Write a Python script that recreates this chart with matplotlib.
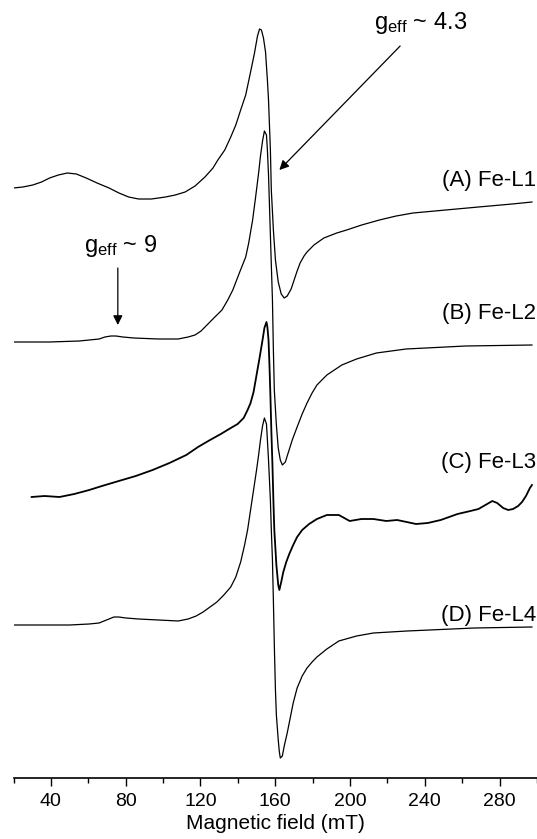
import matplotlib
matplotlib.use("Agg")
import matplotlib.pyplot as plt

plt.rcParams['font.family'] = ['Liberation Sans', 'DejaVu Sans']
plt.rcParams['mathtext.fontset'] = 'custom'
plt.rcParams['mathtext.rm'] = 'Liberation Sans'

# ---- data (magnetic field in mT, intensity in arbitrary units, traces stacked) ----
field_A = [20.0, 25.0, 30.3, 35.0, 39.3, 44.0, 48.8, 53.6, 58.9, 64.7, 71.1, 76.4, 81.6,
           86.9, 93.8, 101.3, 106.5, 111.8, 117.1, 122.4, 126.7, 129.3, 133.0, 136.2,
           138.9, 141.5, 144.2, 146.8, 148.9, 150.5, 151.6, 152.6, 153.7, 154.8, 155.8,
           156.4, 156.9, 157.4, 157.9, 159.0, 160.1, 161.6, 163.2, 164.8, 166.4, 168.5,
           170.1, 171.7, 173.3, 175.4, 177.0, 180.7, 186.0, 192.9, 198.2, 206.2, 215.7,
           224.7, 233.7, 251.2, 268.7, 286.7, 297.3]
signal_A = [590, 591, 593, 596, 600, 603, 605, 604, 600, 595, 590, 585, 581,
            579, 579, 581, 583, 586, 592, 601, 610, 618, 628, 641,
            653, 668, 683, 706, 725, 742, 749, 748, 740, 726, 698,
            678, 653, 628, 588, 548, 518, 496, 484, 480, 482, 489,
            498, 507, 515, 522, 526, 533, 540, 545, 548, 553, 558,
            562, 565, 568, 571, 574, 576]

field_B = [20.0, 39.3, 55.2, 65.8, 68.9, 72.1, 74.8, 78.5, 84.3, 97.5, 108.1, 113.4,
           117.1, 120.3, 124.0, 127.7, 131.5, 134.6, 137.3, 141.0, 144.2, 145.8, 147.9,
           149.5, 151.1, 152.1, 153.2, 154.2, 155.3, 155.8, 156.4, 156.9, 157.4, 157.9,
           158.5, 159.0, 159.5, 160.6, 161.6, 162.7, 163.8, 165.4, 166.9, 169.1, 171.7,
           174.4, 177.0, 179.7, 182.3, 187.6, 195.6, 203.5, 214.1, 230.0, 261.8, 297.3]
signal_B = [436, 436, 437, 439, 441, 442, 442, 441, 440, 439, 439, 441,
            443, 447, 454, 461, 468, 478, 488, 506, 521, 535, 558,
            581, 605, 622, 637, 647, 643, 628, 603, 573, 543, 513,
            478, 428, 388, 353, 330, 318, 313, 316, 325, 338, 351,
            364, 375, 385, 393, 403, 413, 419, 425, 429, 432, 433]

field_C = [29.7, 36.6, 44.6, 52.5, 60.5, 67.3, 76.3, 85.4, 94.4, 103.4, 112.4, 118.7,
           125.1, 130.9, 136.2, 139.9, 143.1, 145.2, 146.8, 148.4, 150.0, 151.6, 153.2,
           154.2, 155.3, 155.8, 156.4, 156.9, 157.4, 157.9, 158.5, 159.0, 159.5, 160.6,
           161.6, 162.2, 163.2, 164.3, 165.9, 167.5, 169.6, 171.7, 174.4, 178.1, 182.3,
           187.6, 194.0, 199.8, 206.1, 212.5, 219.4, 225.2, 235.3, 241.6, 248.5, 257.5,
           264.4, 268.7, 272.4, 276.1, 278.7, 281.9, 284.6, 287.2, 289.9, 292.0, 294.1,
           296.2, 297.3]
signal_C = [281, 282, 281, 284, 288, 292, 297, 302, 308, 315, 323, 331,
            338, 344, 350, 354, 360, 368, 375, 386, 403, 420, 438,
            450, 456, 451, 438, 413, 383, 348, 313, 278, 248, 213,
            193, 188, 196, 206, 216, 224, 233, 241, 248, 254, 259,
            263, 263, 257, 259, 259, 257, 258, 254, 255, 258, 264,
            267, 269, 273, 277, 275, 270, 268, 269, 272, 276, 282,
            290, 293]

field_D = [20.0, 34.0, 49.9, 60.5, 65.8, 68.4, 71.1, 73.7, 76.3, 80.1, 86.9, 97.5,
           108.1, 113.4, 117.7, 121.4, 125.1, 128.8, 132.5, 136.2, 138.9, 141.5, 143.6,
           145.2, 146.8, 148.4, 150.0, 151.1, 152.1, 153.2, 154.2, 155.3, 155.8, 156.4,
           156.9, 157.4, 157.9, 158.5, 159.0, 159.5, 160.1, 160.6, 161.6, 162.2, 162.7,
           163.8, 164.8, 166.4, 168.0, 169.6, 171.7, 174.4, 177.0, 179.7, 182.3, 187.6,
           194.0, 203.5, 212.5, 230.5, 266.5, 297.3]
signal_D = [153, 153, 153, 154, 155, 157, 159, 161, 161, 160, 159, 158,
            157, 159, 162, 166, 171, 176, 183, 191, 201, 216, 233,
            248, 268, 288, 308, 323, 338, 352, 360, 354, 338, 318,
            298, 278, 248, 218, 178, 133, 88, 63, 38, 26, 20,
            22, 32, 45, 60, 75, 90, 102, 110, 116, 121, 129,
            137, 142, 145, 147, 150, 151]

sample_labels = ["(A) Fe-L1", "(B) Fe-L2", "(C) Fe-L3", "(D) Fe-L4"]
label_levels = [598, 465, 316, 163]

major_ticks = [40, 80, 120, 160, 200, 240, 280]
minor_ticks = [20, 60, 100, 140, 180, 220, 260, 300]

# ---- figure ----
W, H = 537, 839
fig = plt.figure(figsize=(W / 100, H / 100), dpi=100)
ax = fig.add_axes([13.5 / W, 61 / H, 1 - 13.5 / W, 778 / H])

ax.plot(field_A, signal_A, color='black', lw=0.9)
ax.plot(field_B, signal_B, color='black', lw=0.9)
ax.plot(field_C, signal_C, color='black', lw=1.3)
ax.plot(field_D, signal_D, color='black', lw=0.9)

for lab, lev in zip(sample_labels, label_levels):
    ax.text(0.998, lev, lab, transform=ax.get_yaxis_transform(), ha='right',
            va='center', fontsize=16)

ax.text(213.0, 755, r'$\mathregular{g_{eff}}$ ~ 4.3', ha='left', va='center', fontsize=17)
ax.annotate('', xy=(162.2, 608), xytext=(226.8, 732),
            arrowprops=dict(arrowstyle='-|>', lw=0.9, color='black', mutation_scale=14,
                            shrinkA=0, shrinkB=0))

ax.text(57.8, 532, r'$\mathregular{g_{eff}}$ ~ 9', ha='left', va='center', fontsize=17)
ax.annotate('', xy=(75.8, 453), xytext=(75.8, 510),
            arrowprops=dict(arrowstyle='-|>', lw=0.9, color='black', mutation_scale=14,
                            shrinkA=0, shrinkB=0))

ax.set_xlim(20, 297.3)
ax.set_ylim(0, 778)
ax.set_xticks(major_ticks)
ax.set_xticks(minor_ticks, minor=True)
ax.set_yticks([])
for s in ['top', 'right', 'left']:
    ax.spines[s].set_visible(False)
ax.spines['bottom'].set_linewidth(1.2)
ax.tick_params(axis='x', which='major', direction='out', length=6, width=1, labelsize=14, pad=5)
ax.tick_params(axis='x', which='minor', direction='out', length=3.5, width=1)
ax.set_xlabel('Magnetic field (mT)', fontsize=15, labelpad=3)

fig.savefig('out.png', dpi=100)
